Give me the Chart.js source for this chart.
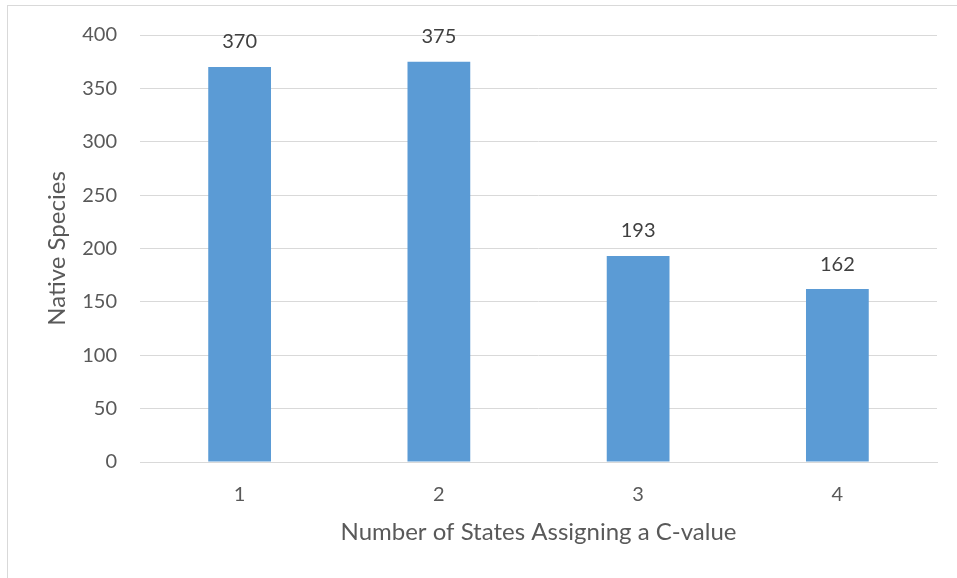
<!DOCTYPE html>
<html>
<head>
<meta charset="utf-8">
<script src="https://cdn.jsdelivr.net/npm/chart.js@4/dist/chart.umd.min.js"></script>
<style>
  html, body { margin: 0; padding: 0; background: #fff; overflow: hidden; }
  #wrap { position: relative; width: 957px; height: 578px; }
  #frame { position: absolute; left: 7px; top: 5px; width: 1000px; height: 700px; border: 1px solid #d9d9d9; box-sizing: border-box; pointer-events: none; }
  canvas { position: absolute; left: 0; top: 0; }
</style>
</head>
<body>
<div id="wrap">
  <canvas id="chart" width="957" height="578"></canvas>
  <div id="frame"></div>
</div>
<script>
// Number of states that assign a coefficient of conservatism
const categories = ['1', '2', '3', '4'];
// Count of native species for each group
const speciesCounts = [370, 375, 193, 162];
const yTicks = [0, 50, 100, 150, 200, 250, 300, 350, 400];

const FONT = 'Lato, "Open Sans", sans-serif';
const TEXT = '#595959';

// Writes each bar's value above it
const valueLabels = {
  id: 'valueLabels',
  afterDatasetsDraw(chart) {
    const { ctx } = chart;
    const meta = chart.getDatasetMeta(0);
    ctx.save();
    ctx.font = '20px ' + FONT;
    ctx.fillStyle = '#404040';
    ctx.textAlign = 'center';
    ctx.textBaseline = 'bottom';
    meta.data.forEach((bar, i) => {
      ctx.fillText(String(speciesCounts[i]), bar.x, bar.y - 15);
    });
    ctx.restore();
  }
};

new Chart(document.getElementById('chart'), {
  type: 'bar',
  data: {
    labels: categories,
    datasets: [{
      data: speciesCounts,
      backgroundColor: '#5B9BD5',
      borderWidth: 0,
      barPercentage: 0.63,
      categoryPercentage: 0.5
    }]
  },
  options: {
    responsive: false,
    animation: false,
    events: [],
    layout: { padding: { left: 0, right: 20, top: 34, bottom: 0 } },
    plugins: { legend: { display: false }, tooltip: { enabled: false } },
    scales: {
      x: {
        grid: { display: false, drawTicks: false },
        border: { display: true, color: '#d9d9d9', width: 1 },
        ticks: { color: TEXT, font: { family: FONT, size: 20 }, padding: 21 },
        title: {
          display: true,
          text: 'Number of States Assigning a C-value',
          color: TEXT,
          font: { family: FONT, size: 24 },
          padding: { top: 0, bottom: 31 }
        },
        afterFit(scale) { scale.height = 116; }
      },
      y: {
        min: 0,
        max: 400,
        afterBuildTicks(scale) { scale.ticks = yTicks.map(v => ({ value: v })); },
        grid: { color: '#d9d9d9', lineWidth: 1, drawTicks: false },
        border: { display: false },
        ticks: { color: TEXT, font: { family: FONT, size: 20 }, padding: 23 },
        title: {
          display: true,
          text: 'Native Species',
          color: TEXT,
          font: { family: FONT, size: 24 },
          padding: { top: 43, bottom: 0 }
        },
        afterFit(scale) { scale.width = 140; }
      }
    }
  },
  plugins: [valueLabels]
});
</script>
</body>
</html>
